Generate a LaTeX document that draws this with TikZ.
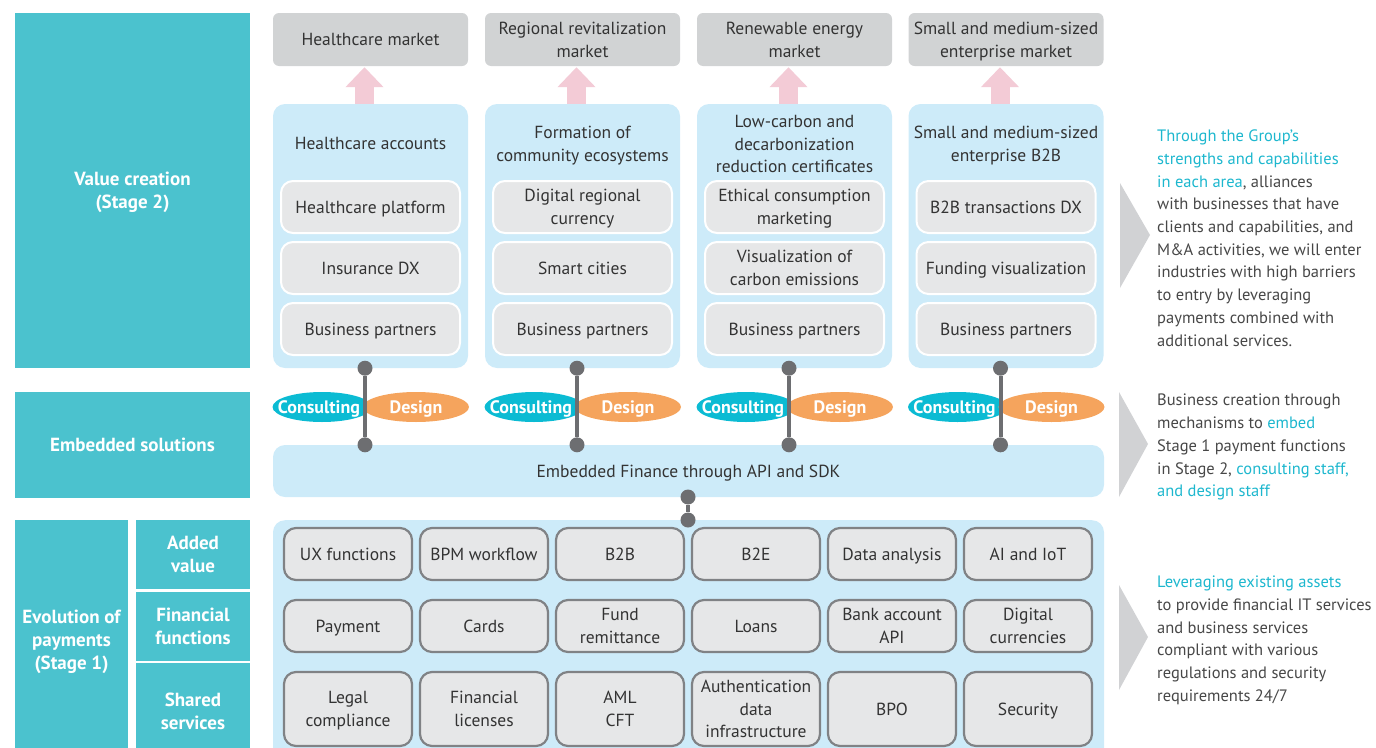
\documentclass[tikz,border=0pt]{standalone}
\usepackage{fontspec}
\setmainfont{PT Sans}
\usepackage{xcolor}
\usetikzlibrary{calc,arrows.meta,positioning,shapes.geometric}

\definecolor{stageteal}{HTML}{4BC2CE}
\definecolor{panelblue}{HTML}{CDEBF9}
\definecolor{marketgray}{HTML}{D1D3D4}
\definecolor{itemgray}{HTML}{E6E7E8}
\definecolor{edgegray}{HTML}{808285}
\definecolor{linkgray}{HTML}{6D6E71}
\definecolor{consultcyan}{HTML}{0BBBD3}
\definecolor{designorange}{HTML}{F5A45D}
\definecolor{liftpink}{HTML}{F3CBD6}
\definecolor{notegray}{HTML}{D1D2D4}
\definecolor{notecyan}{HTML}{1DB7CE}
\definecolor{inktext}{HTML}{333333}

\newcommand{\bodyfont}{\fontsize{17.5}{22.7}\selectfont}
\newcommand{\boldfont}{\fontsize{19}{23}\selectfont\bfseries}
\newcommand{\bubblefont}{\fontsize{18}{23}\selectfont\bfseries}
\newcommand{\notefont}{\fontsize{16.5}{22.7}\selectfont}
\newcommand{\hl}[1]{\textcolor{notecyan}{#1}}

\begin{document}
\begin{tikzpicture}[
    x=1pt,
    y=-1pt,
    every node/.style={
        font=\bodyfont,
        text=inktext,
        align=center,
        inner sep=0pt,
        text depth=0pt
    },
    stagebox/.style={fill=stageteal,text=white,font=\boldfont},
    marketbox/.style={
        fill=marketgray,
        rounded corners=6pt,
        minimum width=195,
        minimum height=53
    },
    fieldbox/.style={
        fill=panelblue,
        rounded corners=12pt,
        minimum width=195,
        minimum height=264
    },
    itembox/.style={
        fill=itemgray,
        draw=white,
        line width=2pt,
        rounded corners=12pt,
        minimum width=179,
        minimum height=52
    },
    assetbox/.style={
        fill=itemgray,
        draw=edgegray,
        line width=2.2pt,
        rounded corners=12pt,
        minimum width=128,
        minimum height=52
    },
    consult/.style={
        ellipse,
        fill=consultcyan,
        text=white,
        font=\bubblefont,
        minimum width=99,
        minimum height=30
    },
    design/.style={
        ellipse,
        fill=designorange,
        text=white,
        font=\bubblefont,
        minimum width=106,
        minimum height=30
    },
    linkdot/.style={circle,fill=linkgray,minimum size=15},
    link/.style={line width=4pt,draw=linkgray},
    lift/.style={
        line width=19pt,
        draw=liftpink,
        -{Triangle[width=37pt,length=20pt]}
    },
    pointer/.style={fill=notegray},
    note/.style={align=left,anchor=west,font=\notefont,text=inktext!90}
]

\useasboundingbox (0,0) rectangle (1376,747);
\clip (0,0) rectangle (1376,747);

% ---------------------------------------------------------
% Stage labels on the left
% ---------------------------------------------------------

\node[stagebox,minimum width=235,minimum height=355] (valuecr)
    at (132.5,190.5) {Value creation\\(Stage 2)};

\node[stagebox,minimum width=235,minimum height=106] (embsol)
    at (132.5,445) {Embedded solutions};

\node[stagebox,minimum width=113,minimum height=240] (evol)
    at (71.5,640) {Evolution of\\payments\\(Stage 1)};

\node[stagebox,minimum width=114,minimum height=69] (addval)
    at (193,554.5) {Added\\value};
\node[stagebox,minimum width=114,minimum height=69] (finfun)
    at (193,626.5) {Financial\\functions};
\node[stagebox,minimum width=114,minimum height=97] (shared)
    at (193,711.5) {Shared\\services};

% ---------------------------------------------------------
% Markets
% ---------------------------------------------------------

\node[marketbox] (m1) at (370.5,39.5) {Healthcare market};
\node[marketbox] (m2) at (582.5,39.5) {Regional revitalization\\market};
\node[marketbox] (m3) at (794.5,39.5) {Renewable energy\\market};
\node[marketbox] (m4) at (1006,39.5) {Small and medium-sized\\enterprise market};

% ---------------------------------------------------------
% Value creation fields
% ---------------------------------------------------------

\node[fieldbox] (f1) at (370.5,236) {};
\node[fieldbox] (f2) at (582.5,236) {};
\node[fieldbox] (f3) at (794.5,236) {};
\node[fieldbox] (f4) at (1006,236) {};

% arrows up to the markets
\draw[lift] ($(f1.north)+(-6,0)$) -- ($(m1.south)+(-6,1)$);
\draw[lift] ($(f2.north)+(-6,0)$) -- ($(m2.south)+(-6,1)$);
\draw[lift] ($(f3.north)+(-6,0)$) -- ($(m3.south)+(-6,1)$);
\draw[lift] ($(f4.north)+(-6,0)$) -- ($(m4.south)+(-6,1)$);

\node (t1) at (370.5,143.5) {Healthcare accounts};
\node (t2) at (582.5,143.5) {Formation of\\community ecosystems};
\node (t3) at (794.5,144) {Low-carbon and\\decarbonization\\reduction certificates};
\node (t4) at (1006,143.5) {Small and medium-sized\\enterprise B2B};

\node[itembox] (i11) at (370.5,207) {Healthcare platform};
\node[itembox] (i12) at (370.5,268) {Insurance DX};
\node[itembox] (i13) at (370.5,329) {Business partners};

\node[itembox] (i21) at (582.5,207) {Digital regional\\currency};
\node[itembox] (i22) at (582.5,268) {Smart cities};
\node[itembox] (i23) at (582.5,329) {Business partners};

\node[itembox] (i31) at (794.5,207) {Ethical consumption\\marketing};
\node[itembox] (i32) at (794.5,268) {Visualization of\\carbon emissions};
\node[itembox] (i33) at (794.5,329) {Business partners};

\node[itembox] (i41) at (1006,207) {B2B transactions DX};
\node[itembox] (i42) at (1006,268) {Funding visualization};
\node[itembox] (i43) at (1006,329) {Business partners};

% ---------------------------------------------------------
% Embedded solutions
% ---------------------------------------------------------

\node[
    fill=panelblue,
    rounded corners=12pt,
    minimum width=831,
    minimum height=52
] (bar) at (688.5,471) {Embedded Finance through API and SDK};

\node[consult] (c1) at (322,407) {\makebox[0pt]{Consulting\hspace{6pt}}};
\node[design]  (g1) at (416,407) {\makebox[0pt]{Design}};
\node[consult] (c2) at (534,407) {\makebox[0pt]{Consulting\hspace{6pt}}};
\node[design]  (g2) at (628,407) {\makebox[0pt]{Design}};
\node[consult] (c3) at (746,407) {\makebox[0pt]{Consulting\hspace{6pt}}};
\node[design]  (g3) at (840,407) {\makebox[0pt]{Design}};
\node[consult] (c4) at (957.5,407) {\makebox[0pt]{Consulting\hspace{6pt}}};
\node[design]  (g4) at (1051.5,407) {\makebox[0pt]{Design}};

% links field -> embedded bar
\node[linkdot] (d1a) at ($(f1.south)+(-5.5,0)$) {};
\node[linkdot] (d1b) at (d1a |- bar.north) {};
\node[linkdot] (d2a) at ($(f2.south)+(-5.5,0)$) {};
\node[linkdot] (d2b) at (d2a |- bar.north) {};
\node[linkdot] (d3a) at ($(f3.south)+(-5.5,0)$) {};
\node[linkdot] (d3b) at (d3a |- bar.north) {};
\node[linkdot] (d4a) at ($(f4.south)+(-5.5,0)$) {};
\node[linkdot] (d4b) at (d4a |- bar.north) {};

\draw[link] (d1a) -- (d1b);
\draw[link] (d2a) -- (d2b);
\draw[link] (d3a) -- (d3b);
\draw[link] (d4a) -- (d4b);

% ---------------------------------------------------------
% Evolution of payments (Stage 1)
% ---------------------------------------------------------

\node[
    fill=panelblue,
    rounded corners=12pt,
    minimum width=831,
    minimum height=260,
    anchor=north
] (base) at (688.5,520) {};

\node[linkdot] (dma) at (688,497) {};
\node[linkdot] (dmb) at (688,520) {};
\draw[link] (dma) -- (dmb);

\node[assetbox] (a11) at (348,554)  {UX functions};
\node[assetbox] (a12) at (484,554)  {BPM workflow};
\node[assetbox] (a13) at (620,554)  {B2B};
\node[assetbox] (a14) at (756,554)  {B2E};
\node[assetbox] (a15) at (892,554)  {Data analysis};
\node[assetbox] (a16) at (1028,554) {AI and IoT};

\node[assetbox] (a21) at (348,626)  {Payment};
\node[assetbox] (a22) at (484,626)  {Cards};
\node[assetbox] (a23) at (620,626)  {Fund\\remittance};
\node[assetbox] (a24) at (756,626)  {Loans};
\node[assetbox] (a25) at (892,626)  {Bank account\\API};
\node[assetbox] (a26) at (1028,626) {Digital\\currencies};

\node[assetbox,minimum height=74] (a31) at (348,709)  {Legal\\compliance};
\node[assetbox,minimum height=74] (a32) at (484,709)  {Financial\\licenses};
\node[assetbox,minimum height=74] (a33) at (620,709)  {AML\\CFT};
\node[assetbox,minimum height=74] (a34) at (756,709)  {Authentication\\data\\infrastructure};
\node[assetbox,minimum height=74] (a35) at (892,709)  {BPO};
\node[assetbox,minimum height=74] (a36) at (1028,709) {Security};

% ---------------------------------------------------------
% Notes on the right
% ---------------------------------------------------------

\fill[pointer] (1120,183) -- (1150,235) -- (1120,288) -- cycle;
\fill[pointer] (1119,392) -- (1148,444) -- (1119,497) -- cycle;
\fill[pointer] (1119,585) -- (1148,637) -- (1119,690) -- cycle;

\node[note] (n1) at (1157,238)
{
\hl{Through the Group’s}\\
\hl{strengths and capabilities}\\
\hl{in each area}, alliances\\
with businesses that have\\
clients and capabilities, and\\
M\&A activities, we will enter\\
industries with high barriers\\
to entry by leveraging\\
payments combined with\\
additional services.
};

\node[note] (n2) at (1157,445.5)
{
Business creation through\\
mechanisms to \hl{embed}\\
Stage 1 payment functions\\
in Stage 2, \hl{consulting staff,}\\
\hl{and design staff}
};

\node[note] (n3) at (1157,638.5)
{
\hl{Leveraging existing assets}\\
to provide financial IT services\\
and business services\\
compliant with various\\
regulations and security\\
requirements 24/7
};

\end{tikzpicture}
\end{document}
